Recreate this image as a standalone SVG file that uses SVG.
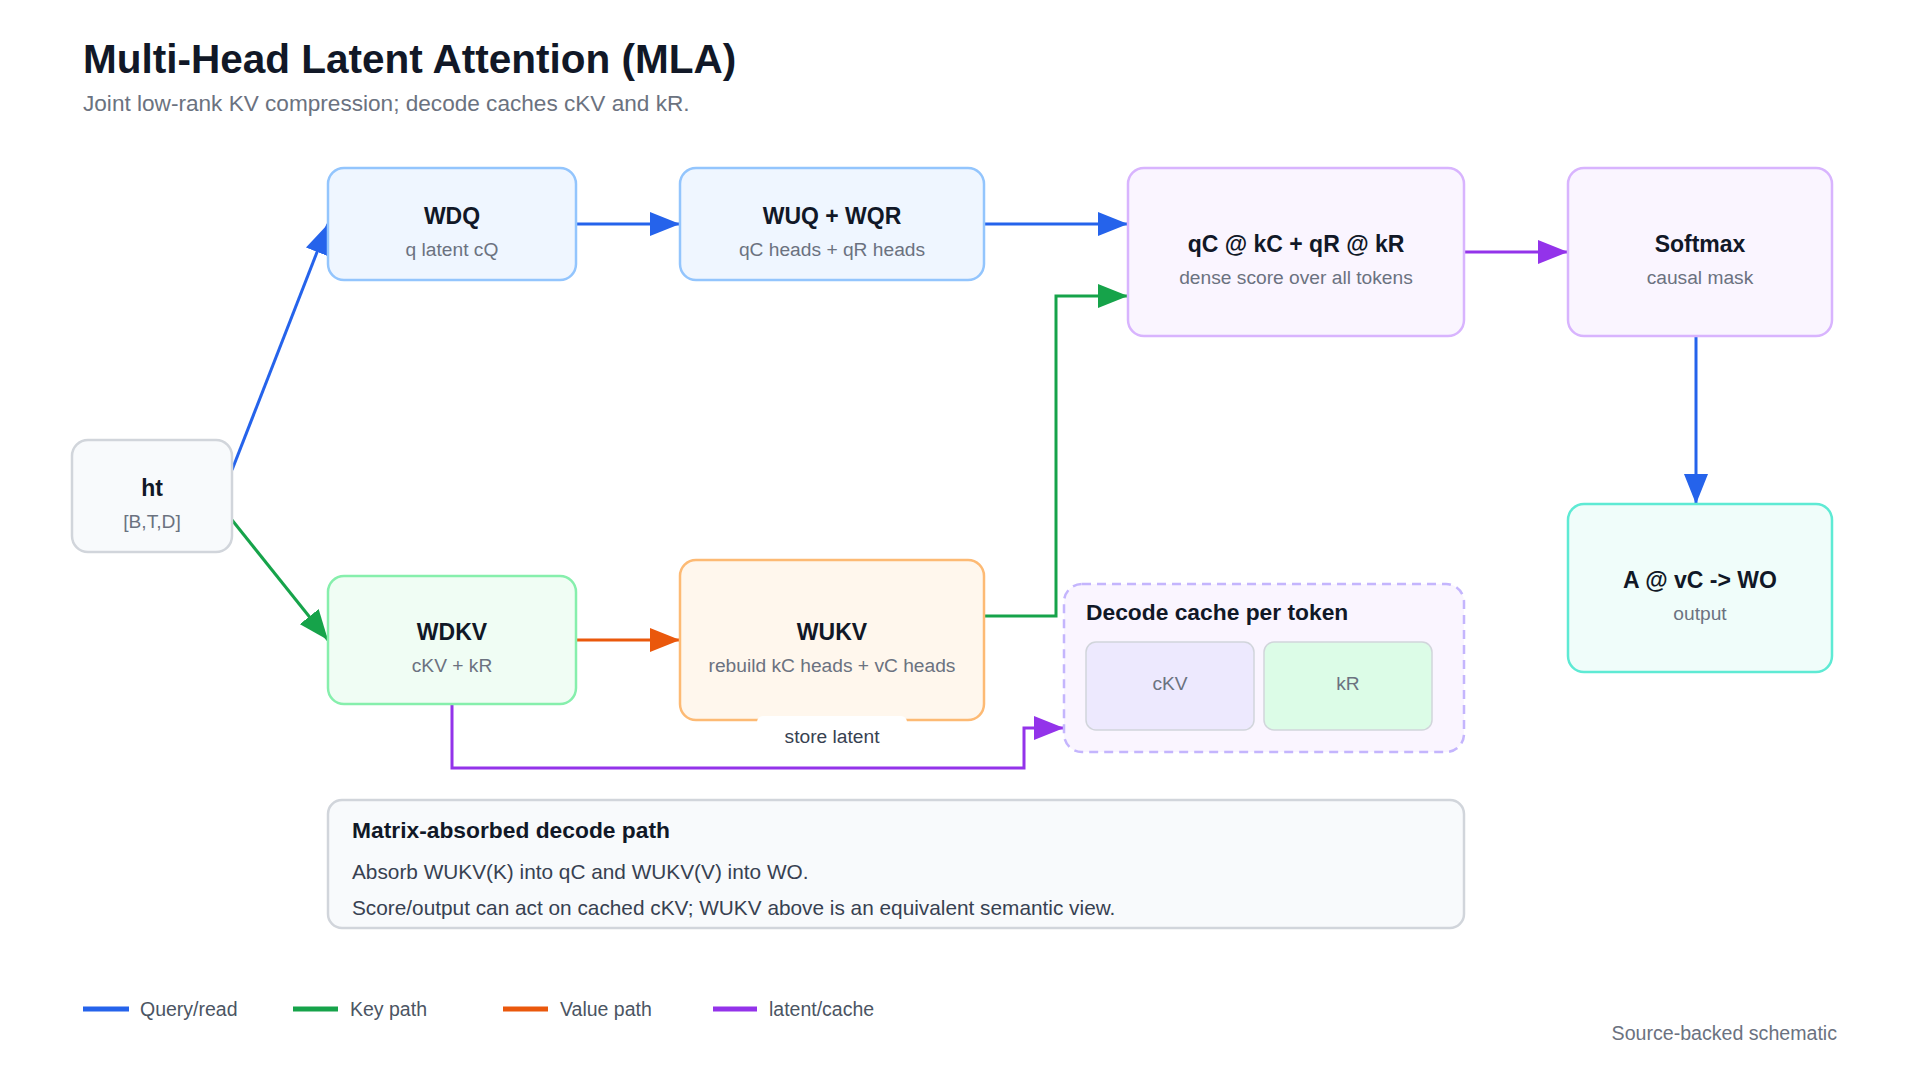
<svg xmlns="http://www.w3.org/2000/svg" width="1920" height="1080" viewBox="0 0 1920 1080">
<style>
text{font-family:"Liberation Sans",Arial,Helvetica,sans-serif}
.h1{font-size:40.5px;font-weight:700;fill:#111827}
.sub{font-size:22.6px;fill:#6b7280}
.t{font-size:23px;font-weight:700;fill:#111827;text-anchor:middle}
.s{font-size:19.2px;fill:#6b7280;text-anchor:middle}
.box{stroke-width:2.5}
.blue{fill:#eff6ff;stroke:#93c5fd}
.purp{fill:#faf5ff;stroke:#d8b4fe}
.gray{fill:#f8fafc;stroke:#d1d5db}
.green{fill:#f0fdf4;stroke:#86efac}
.orange{fill:#fff7ed;stroke:#fdba74}
.teal{fill:#f0fdfa;stroke:#5eead4}
.e{fill:none;stroke-width:3}
.eb{stroke:#2563eb}
.eg{stroke:#16a34a}
.eo{stroke:#ea580c}
.ep{stroke:#9333ea}
.lg{font-size:19.5px;fill:#4b5563}
.bt{font-size:20.8px;fill:#374151}
</style>
<defs>
<marker id="ab" viewBox="0 0 10 8" markerWidth="10" markerHeight="8" refX="10" refY="4" orient="auto" markerUnits="strokeWidth"><path d="M0,0 L10,4 L0,8 z" fill="#2563eb"/></marker>
<marker id="ag" viewBox="0 0 10 8" markerWidth="10" markerHeight="8" refX="10" refY="4" orient="auto" markerUnits="strokeWidth"><path d="M0,0 L10,4 L0,8 z" fill="#16a34a"/></marker>
<marker id="ao" viewBox="0 0 10 8" markerWidth="10" markerHeight="8" refX="10" refY="4" orient="auto" markerUnits="strokeWidth"><path d="M0,0 L10,4 L0,8 z" fill="#ea580c"/></marker>
<marker id="ap" viewBox="0 0 10 8" markerWidth="10" markerHeight="8" refX="10" refY="4" orient="auto" markerUnits="strokeWidth"><path d="M0,0 L10,4 L0,8 z" fill="#9333ea"/></marker>
</defs>
<rect width="1920" height="1080" fill="#ffffff"/>
<text class="h1" x="83" y="73">Multi-Head Latent Attention (MLA)</text>
<text class="sub" x="83" y="111">Joint low-rank KV compression; decode caches cKV and kR.</text>

<g id="connectors">
<path class="e eb" d="M232,470 L328,224" marker-end="url(#ab)"/>
<path class="e eg" d="M232,520 L328,640" marker-end="url(#ag)"/>
<path class="e eb" d="M576,224 L680,224" marker-end="url(#ab)"/>
<path class="e eb" d="M984,224 L1128,224" marker-end="url(#ab)"/>
<path class="e ep" d="M1464,252 L1568,252" marker-end="url(#ap)"/>
<path class="e eb" d="M1696,336 L1696,504" marker-end="url(#ab)"/>
<path class="e eo" d="M576,640 L680,640" marker-end="url(#ao)"/>
<path class="e eg" d="M984,616 L1056,616 L1056,296 L1128,296" marker-end="url(#ag)"/>
<path class="e ep" d="M452,704 L452,768 L1024,768 L1024,728 L1064,728" marker-end="url(#ap)"/>
</g>

<g id="ht">
<rect class="box gray" x="72" y="440" width="160" height="112" rx="16"/>
<text class="t" x="152" y="496">ht</text>
<text class="s" x="152" y="528">[B,T,D]</text>
</g>
<g id="wdq">
<rect class="box blue" x="328" y="168" width="248" height="112" rx="16"/>
<text class="t" x="452" y="224">WDQ</text>
<text class="s" x="452" y="256">q latent cQ</text>
</g>
<g id="wuq">
<rect class="box blue" x="680" y="168" width="304" height="112" rx="16"/>
<text class="t" x="832" y="224">WUQ + WQR</text>
<text class="s" x="832" y="256">qC heads + qR heads</text>
</g>
<g id="score">
<rect class="box purp" x="1128" y="168" width="336" height="168" rx="16"/>
<text class="t" x="1296" y="252">qC @ kC + qR @ kR</text>
<text class="s" x="1296" y="284">dense score over all tokens</text>
</g>
<g id="softmax">
<rect class="box purp" x="1568" y="168" width="264" height="168" rx="16"/>
<text class="t" x="1700" y="252">Softmax</text>
<text class="s" x="1700" y="284">causal mask</text>
</g>
<g id="output">
<rect class="box teal" x="1568" y="504" width="264" height="168" rx="16"/>
<text class="t" x="1700" y="588">A @ vC -&gt; WO</text>
<text class="s" x="1700" y="620">output</text>
</g>
<g id="wdkv">
<rect class="box green" x="328" y="576" width="248" height="128" rx="16"/>
<text class="t" x="452" y="640">WDKV</text>
<text class="s" x="452" y="672">cKV + kR</text>
</g>
<g id="wukv">
<rect class="box orange" x="680" y="560" width="304" height="160" rx="16"/>
<text class="t" x="832" y="640">WUKV</text>
<text class="s" x="832" y="672">rebuild kC heads + vC heads</text>
<rect x="757" y="716" width="150" height="40" rx="6" fill="#ffffff"/>
<text x="832" y="743" text-anchor="middle" font-size="19.2" fill="#374151">store latent</text>
</g>
<g id="cache">
<rect x="1064" y="584" width="400" height="168" rx="18" fill="#faf5ff" stroke="#c4b5fd" stroke-width="2.5" stroke-dasharray="9 6"/>
<text x="1086" y="620" font-size="22.8" font-weight="700" fill="#111827">Decode cache per token</text>
<rect x="1086" y="642" width="168" height="88" rx="10" fill="#ede9fe" stroke="#d1d5db" stroke-width="1.5"/>
<text class="s" x="1170" y="690">cKV</text>
<rect x="1264" y="642" width="168" height="88" rx="10" fill="#dcfce7" stroke="#d1d5db" stroke-width="1.5"/>
<text class="s" x="1348" y="690">kR</text>
</g>
<g id="absorbed">
<rect x="328" y="800" width="1136" height="128" rx="14" fill="#f8fafc" stroke="#d1d5db" stroke-width="2.5"/>
<text x="352" y="838" font-size="22.8" font-weight="700" fill="#111827">Matrix-absorbed decode path</text>
<text class="bt" x="352" y="879">Absorb WUKV(K) into qC and WUKV(V) into WO.</text>
<text class="bt" x="352" y="915">Score/output can act on cached cKV; WUKV above is an equivalent semantic view.</text>
</g>
<g id="legend">
<line x1="83" y1="1009" x2="129" y2="1009" stroke="#2563eb" stroke-width="5"/>
<text class="lg" x="140" y="1016">Query/read</text>
<line x1="293" y1="1009" x2="338" y2="1009" stroke="#16a34a" stroke-width="5"/>
<text class="lg" x="350" y="1016">Key path</text>
<line x1="503" y1="1009" x2="548" y2="1009" stroke="#ea580c" stroke-width="5"/>
<text class="lg" x="560" y="1016">Value path</text>
<line x1="713" y1="1009" x2="757" y2="1009" stroke="#9333ea" stroke-width="5"/>
<text class="lg" x="769" y="1016">latent/cache</text>
</g>
<text x="1837" y="1040" text-anchor="end" font-size="19.6" fill="#6b7280">Source-backed schematic</text>
</svg>
